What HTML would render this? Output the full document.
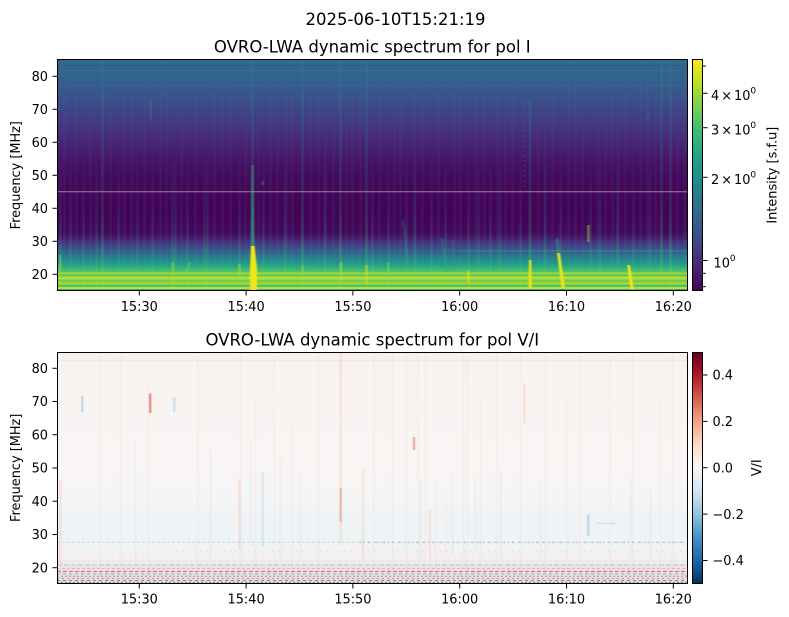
<!DOCTYPE html>
<html><head><meta charset="utf-8"><style>
html,body{margin:0;padding:0;background:#fff;}
svg{display:block;}
text{font-family:"DejaVu Sans","Liberation Sans",sans-serif;fill:#000;}
</style></head><body>
<svg width="789" height="617" viewBox="0 0 789 617" xmlns="http://www.w3.org/2000/svg">
<defs>
<filter id="blur" x="-5%" y="-5%" width="110%" height="110%"><feGaussianBlur stdDeviation="0.7 0.3"/></filter>
<linearGradient id="bgI" gradientUnits="userSpaceOnUse" x1="0" y1="59" x2="0" y2="291">
<stop offset="0" stop-color="#2f6b8e"/>
<stop offset="0.047" stop-color="#31668e"/>
<stop offset="0.112" stop-color="#365c8d"/>
<stop offset="0.177" stop-color="#3c4f8a"/>
<stop offset="0.241" stop-color="#424086"/>
<stop offset="0.306" stop-color="#46327e"/>
<stop offset="0.371" stop-color="#482374"/>
<stop offset="0.435" stop-color="#471466"/>
<stop offset="0.5" stop-color="#450b5d"/>
<stop offset="0.565" stop-color="#450559"/>
<stop offset="0.672" stop-color="#440256"/>
<stop offset="0.746" stop-color="#45085b"/>
<stop offset="0.772" stop-color="#471a6c"/>
<stop offset="0.797" stop-color="#443a83"/>
<stop offset="0.819" stop-color="#3d4e8a"/>
<stop offset="0.84" stop-color="#2f6a8d"/>
<stop offset="0.862" stop-color="#25848e"/>
<stop offset="0.884" stop-color="#1f9d8a"/>
<stop offset="0.901" stop-color="#2fb47c"/>
<stop offset="0.918" stop-color="#55c568"/>
<stop offset="1" stop-color="#6ccd5a"/>
</linearGradient>
<linearGradient id="viridis" x1="0" y1="1" x2="0" y2="0">
<stop offset="0" stop-color="#440154"/><stop offset="0.1" stop-color="#482475"/>
<stop offset="0.2" stop-color="#414487"/><stop offset="0.3" stop-color="#355f8d"/>
<stop offset="0.4" stop-color="#2a788e"/><stop offset="0.5" stop-color="#21918c"/>
<stop offset="0.6" stop-color="#22a884"/><stop offset="0.7" stop-color="#44bf70"/>
<stop offset="0.8" stop-color="#7ad151"/><stop offset="0.9" stop-color="#bddf26"/>
<stop offset="1" stop-color="#fde725"/>
</linearGradient>
<linearGradient id="rdbu" x1="0" y1="1" x2="0" y2="0">
<stop offset="0" stop-color="#053061"/><stop offset="0.1" stop-color="#2166ac"/>
<stop offset="0.2" stop-color="#4393c3"/><stop offset="0.3" stop-color="#92c5de"/>
<stop offset="0.4" stop-color="#d1e5f0"/><stop offset="0.5" stop-color="#f7f7f7"/>
<stop offset="0.6" stop-color="#fddbc7"/><stop offset="0.7" stop-color="#f4a582"/>
<stop offset="0.8" stop-color="#d6604d"/><stop offset="0.9" stop-color="#b2182b"/>
<stop offset="1" stop-color="#67001f"/>
</linearGradient>
<linearGradient id="sA" gradientUnits="userSpaceOnUse" x1="0" y1="59" x2="0" y2="291">
<stop offset="0" stop-color="#3a9a9a" stop-opacity="0.08"/>
<stop offset="0.45" stop-color="#3a6a9a" stop-opacity="0.18"/>
<stop offset="0.8" stop-color="#2a7a8e" stop-opacity="0.3"/>
<stop offset="1" stop-color="#7ad151" stop-opacity="0.35"/>
</linearGradient>
<linearGradient id="sB" gradientUnits="userSpaceOnUse" x1="0" y1="150" x2="0" y2="291">
<stop offset="0" stop-color="#2c6a8c" stop-opacity="0.05"/>
<stop offset="0.45" stop-color="#2c6a8c" stop-opacity="0.35"/>
<stop offset="0.8" stop-color="#3fbc73" stop-opacity="0.45"/>
<stop offset="1" stop-color="#c5e021" stop-opacity="0.55"/>
</linearGradient>
<linearGradient id="sC" gradientUnits="userSpaceOnUse" x1="0" y1="59" x2="0" y2="291">
<stop offset="0" stop-color="#22a08c" stop-opacity="0.3"/>
<stop offset="0.6" stop-color="#21918c" stop-opacity="0.4"/>
<stop offset="0.85" stop-color="#3fbc73" stop-opacity="0.6"/>
<stop offset="1" stop-color="#bddf26" stop-opacity="0.7"/>
</linearGradient>
<linearGradient id="bgV" gradientUnits="userSpaceOnUse" x1="0" y1="352" x2="0" y2="584">
<stop offset="0" stop-color="#f9efec"/>
<stop offset="0.03" stop-color="#f9f1ee"/>
<stop offset="0.12" stop-color="#f9f4f2"/>
<stop offset="0.5" stop-color="#f8f5f4"/>
<stop offset="0.64" stop-color="#f5f5f6"/>
<stop offset="0.70" stop-color="#f0f3f6"/>
<stop offset="0.81" stop-color="#eef3f6"/>
<stop offset="0.89" stop-color="#f4f1f2"/>
<stop offset="0.93" stop-color="#ece3e6"/>
<stop offset="1" stop-color="#e4d9de"/>
</linearGradient>
<clipPath id="c1"><rect x="57" y="59" width="631" height="232"/></clipPath>
<clipPath id="c2"><rect x="57" y="352" width="631" height="232"/></clipPath>
</defs>

<rect x="0" y="0" width="789" height="617" fill="#fff"/>

<text x="395.5" y="25" font-size="16.5" text-anchor="middle">2025-06-10T15:21:19</text>
<text x="372.3" y="52.5" font-size="16.5" text-anchor="middle">OVRO-LWA dynamic spectrum for pol I</text>
<text x="372.3" y="345.5" font-size="16.5" text-anchor="middle">OVRO-LWA dynamic spectrum for pol V/I</text>

<!-- ===== TOP PANEL ===== -->
<g clip-path="url(#c1)">
<rect x="57" y="59" width="631" height="232" fill="url(#bgI)"/>
<line x1="57" y1="65.5" x2="688" y2="65.5" stroke="#4a3f85" stroke-width="1" opacity="0.6"/>
<line x1="57" y1="85.5" x2="688" y2="85.5" stroke="#2f7f8e" stroke-width="1" opacity="0.35"/>
<line x1="57" y1="240.5" x2="688" y2="240.5" stroke="#3b528b" stroke-width="1" opacity="0.25"/>
<line x1="57" y1="250.8" x2="460" y2="250.8" stroke="#3f7a8c" stroke-width="1.4" opacity="0.35"/>
<line x1="460" y1="250.8" x2="688" y2="250.8" stroke="#3f7e8c" stroke-width="1.6" opacity="0.75"/>
<g filter="url(#blur)">
<path stroke="url(#sA)" stroke-width="1.4" fill="none" d="M64.5 59V291M76.5 59V291M90.5 59V291M110.5 59V291M124.5 59V291M131.5 59V291M144.5 59V291M160.5 59V291M166.5 59V291M181.5 59V291M195.5 59V291M214.5 59V291M222.5 59V291M230.5 59V291M245.5 59V291M258.5 59V291M270.5 59V291M277.5 59V291M286.5 59V291M292.5 59V291M310.5 59V291M318.5 59V291M325.5 59V291M333.5 59V291M346.5 59V291M352.5 59V291M360.5 59V291M379.5 59V291M394.5 59V291M400.5 59V291M414.5 59V291M422.5 59V291M438.5 59V291M454.5 59V291M460.5 59V291M475.5 59V291M484.5 59V291M497.5 59V291M505.5 59V291M512.5 59V291M538.5 59V291M545.5 59V291M552.5 59V291M568.5 59V291M575.5 59V291M582.5 59V291M597.5 59V291M605.5 59V291M612.5 59V291M618.5 59V291M625.5 59V291M640.5 59V291M647.5 59V291M655.5 59V291M677.5 59V291M684.5 59V291"/>
<path stroke="url(#sB)" stroke-width="1.6" fill="none" d="M60.5 150V291M70.5 150V291M83.5 150V291M96.5 150V291M118.5 150V291M137.5 150V291M152.5 150V291M172.5 150V291M175.5 150V291M187.5 150V291M204.5 150V291M207.5 150V291M239.5 150V291M263.5 150V291M388.5 150V291M406.5 150V291M431.5 150V291M445.5 150V291M468.5 150V291M478.5 150V291M490.5 150V291M520.5 150V291M560.5 150V291M590.5 150V291M633.5 150V291M617.5 150V291M372.5 150V291M285 150V291M325 150V291M415 150V291M500 150V291M545 150V291M600 150V291M650 150V291"/>
<path stroke="url(#sC)" stroke-width="1.5" fill="none" d="M102.5 59V291M302.5 59V291M340.5 59V291M366.5 59V291M252.5 59V291M661.5 59V291M670.5 59V291"/>
<path stroke="url(#sC)" stroke-width="1.6" fill="none" d="M530 100V291"/>
<line x1="150.7" y1="100" x2="150.7" y2="121" stroke="#21918c" stroke-width="1.5" opacity="0.5"/>
<line x1="648" y1="113" x2="648" y2="123" stroke="#21918c" stroke-width="1.4" opacity="0.4"/>
<line x1="524.5" y1="100" x2="524.5" y2="190" stroke="#3a7a8c" stroke-width="1.2" stroke-dasharray="2 3" opacity="0.5"/>
<line x1="588.3" y1="225" x2="588.3" y2="242" stroke="#9ad93f" stroke-width="1.6" opacity="0.7"/>
<line x1="263" y1="181" x2="263" y2="185" stroke="#3fbc73" stroke-width="1.5" opacity="0.6"/>
<line x1="190" y1="262" x2="182" y2="283" stroke="#7ad151" stroke-width="1.4" opacity="0.6"/>
<line x1="403" y1="220" x2="408" y2="264" stroke="#2a9a8a" stroke-width="2" opacity="0.35"/>
<line x1="441.5" y1="238" x2="446" y2="272" stroke="#2a9a8a" stroke-width="2" opacity="0.35"/>
<line x1="453" y1="240" x2="455" y2="270" stroke="#2a9a8a" stroke-width="1.5" opacity="0.3"/>
</g>
<line x1="57" y1="191.7" x2="688" y2="191.7" stroke="#9c8796" stroke-width="1"/>
<rect x="57" y="272.5" width="631" height="1.8" fill="#c2df23" opacity="0.75"/>
<rect x="57" y="274.3" width="631" height="2.2" fill="#5ec962" opacity="0.5"/>
<rect x="57" y="276.5" width="631" height="3" fill="#d2e21b" opacity="0.8"/>
<rect x="57" y="279.5" width="631" height="3" fill="#7ad151" opacity="0.6"/>
<rect x="57" y="282.5" width="631" height="2" fill="#c0df25" opacity="0.75"/>
<rect x="57" y="284.5" width="631" height="2.5" fill="#3fbc73" opacity="0.6"/>
<rect x="57" y="287" width="631" height="2" fill="#dfe318" opacity="0.8"/>
<rect x="57" y="289" width="631" height="2" fill="#25a087" opacity="0.7"/>
<g filter="url(#blur)">
<polygon points="251.5,165 253.5,165 254.8,248 250.5,248" fill="#35b779" opacity="0.55"/>
<polygon points="251,246 254.5,246 257,268 257,291 250,291 250,268" fill="#f0e51c"/>
<polygon points="529,260 531.2,260 532,289 528.5,289" fill="#e3e41a"/>
<polygon points="556,238 558,238 559.5,253 557,253" fill="#35b779" opacity="0.45"/>
<polygon points="557,253 559.8,253 565,288 561.8,288" fill="#eee51c"/>
<polygon points="627.3,265 630,265 633.8,289.5 630.5,289.5" fill="#f2e61e"/>
<rect x="467.5" y="271" width="2" height="12" fill="#dfe318" opacity="0.85"/>
<rect x="238.5" y="264" width="2" height="16" fill="#a0da39" opacity="0.75"/>
<rect x="59.5" y="255" width="1.6" height="30" fill="#9ad93f" opacity="0.6"/>
<rect x="172" y="262" width="1.6" height="20" fill="#a8db34" opacity="0.6"/>
<rect x="365.5" y="265" width="2" height="18" fill="#c8e020" opacity="0.7"/>
<rect x="387.5" y="262" width="1.8" height="18" fill="#8fd744" opacity="0.6"/>
<rect x="340" y="262" width="2" height="20" fill="#b5de2b" opacity="0.6"/>
<rect x="302" y="265" width="1.6" height="15" fill="#a0da39" opacity="0.6"/>
</g>
</g>
<rect x="57.5" y="59.5" width="630" height="231" fill="none" stroke="#000" stroke-width="1"/>

<g stroke="#000" stroke-width="1">
<line x1="57" y1="76.3" x2="52.5" y2="76.3"/><line x1="57" y1="109.3" x2="52.5" y2="109.3"/>
<line x1="57" y1="142.3" x2="52.5" y2="142.3"/><line x1="57" y1="175.3" x2="52.5" y2="175.3"/>
<line x1="57" y1="208.3" x2="52.5" y2="208.3"/><line x1="57" y1="241.3" x2="52.5" y2="241.3"/>
<line x1="57" y1="274.3" x2="52.5" y2="274.3"/>
<line x1="139.3" y1="291" x2="139.3" y2="295.5"/><line x1="246.1" y1="291" x2="246.1" y2="295.5"/>
<line x1="352.9" y1="291" x2="352.9" y2="295.5"/><line x1="459.7" y1="291" x2="459.7" y2="295.5"/>
<line x1="566.5" y1="291" x2="566.5" y2="295.5"/><line x1="673.3" y1="291" x2="673.3" y2="295.5"/>
</g>
<g font-size="12.9" text-anchor="end">
<text x="48" y="81">80</text><text x="48" y="114">70</text><text x="48" y="147">60</text>
<text x="48" y="180">50</text><text x="48" y="213">40</text><text x="48" y="246">30</text>
<text x="48" y="279">20</text>
</g>
<g font-size="12.9" text-anchor="middle">
<text x="139.3" y="311">15:30</text><text x="246.1" y="311">15:40</text><text x="352.9" y="311">15:50</text>
<text x="459.7" y="311">16:00</text><text x="566.5" y="311">16:10</text><text x="673.3" y="311">16:20</text>
</g>
<text transform="translate(19.8,175.2) rotate(-90)" font-size="12.9" text-anchor="middle">Frequency [MHz]</text>

<rect x="692.3" y="59.3" width="10" height="231.4" fill="url(#viridis)"/>
<rect x="692.5" y="59.5" width="10" height="231" fill="none" stroke="#000" stroke-width="1"/>
<g stroke="#000" stroke-width="1">
<line x1="703" y1="66" x2="705.8" y2="66"/>
<line x1="703" y1="93.3" x2="707.5" y2="93.3"/>
<line x1="703" y1="127.7" x2="707.5" y2="127.7"/>
<line x1="703" y1="177.3" x2="707.5" y2="177.3"/>
<line x1="703" y1="260.5" x2="707.5" y2="260.5"/>
<line x1="703" y1="273.3" x2="705.8" y2="273.3"/>
<line x1="703" y1="286.7" x2="705.8" y2="286.7"/>
</g>
<g font-size="12.9">
<text x="711" y="100">4<tspan dx="2">×</tspan><tspan dx="2">10</tspan><tspan dy="-6.5" font-size="9">0</tspan></text>
<text x="711" y="134.4">3<tspan dx="2">×</tspan><tspan dx="2">10</tspan><tspan dy="-6.5" font-size="9">0</tspan></text>
<text x="711" y="184">2<tspan dx="2">×</tspan><tspan dx="2">10</tspan><tspan dy="-6.5" font-size="9">0</tspan></text>
<text x="713.5" y="267.3">10<tspan dy="-6.5" font-size="9">0</tspan></text>
</g>
<text transform="translate(776.5,175.2) rotate(-90)" font-size="12.9" text-anchor="middle">Intensity [s.f.u]</text>

<!-- ===== BOTTOM PANEL ===== -->
<g clip-path="url(#c2)">
<rect x="57" y="352" width="631" height="232" fill="url(#bgV)"/>
<line x1="57" y1="360.7" x2="688" y2="360.7" stroke="#e2ecf2" stroke-width="1.6"/>
<g filter="url(#blur)">
<path stroke="#f4a582" stroke-width="1.2" opacity="0.16" fill="none" d="M100.5 352V570M120.5 352V570M148.5 380V570M197.5 352V570M240.5 352V570M255.5 400V570M274.5 352V570M292.5 420V570M318.5 352V570M373.5 352V570M392.5 352V570M406.5 352V570M418.5 352V570M425.5 352V570M463.5 352V570M467.5 352V570M480.5 400V570M496.5 352V570M520.5 352V570M545.5 352V570M566.5 400V570M580.5 352V570M610.5 352V570M632.5 352V570M660.5 400V570M672.5 352V570M435.5 480V570M445.5 500V570"/>
<path stroke="#f4a582" stroke-width="1.4" opacity="0.4" fill="none" d="M340.7 352V545M60.5 480V565M239.5 480V550M363 470V560M430 510V560"/>
<line x1="340.7" y1="488" x2="340.7" y2="522" stroke="#e89a80" stroke-width="1.6"/>
<path stroke="#92c5de" stroke-width="1.2" opacity="0.2" fill="none" d="M135.5 440V560M210.5 450V560M250.5 440V545M280.5 460V560M300.5 470V560M420.5 480V560M452.5 470V555M475.5 480V550M500.5 470V560M540.5 480V560M630.5 480V560M650.5 490V560"/>
<line x1="262.7" y1="472" x2="262.7" y2="547" stroke="#92c5de" stroke-width="1.3" opacity="0.55"/>
<line x1="82.3" y1="396" x2="82.3" y2="412" stroke="#6aaed6" stroke-width="1.2" opacity="0.8"/>
<line x1="174.3" y1="397" x2="174.3" y2="412" stroke="#92c5de" stroke-width="1.2" opacity="0.8"/>
<line x1="150.2" y1="393.5" x2="150.2" y2="413" stroke="#d6604d" stroke-width="1.6"/>
<line x1="414" y1="437" x2="414" y2="450" stroke="#e07a60" stroke-width="1.4"/>
<line x1="524.3" y1="383" x2="524.3" y2="423" stroke="#f4a582" stroke-width="1.3" opacity="0.5"/>
<line x1="588.3" y1="515" x2="588.3" y2="536" stroke="#6aaed6" stroke-width="1.2" opacity="0.8"/>
<line x1="596.7" y1="523.3" x2="616.7" y2="523.3" stroke="#92c5de" stroke-width="1" stroke-dasharray="5 2" opacity="0.6"/>
</g>
<line x1="57" y1="542.3" x2="688" y2="542.3" stroke="#a9cfe3" stroke-width="1.2" stroke-dasharray="3 2" opacity="0.6"/>
<line x1="360" y1="542.3" x2="688" y2="542.3" stroke="#d6604d" stroke-width="1.2" stroke-dasharray="1 7" opacity="0.5"/>
<line x1="360" y1="542.3" x2="688" y2="542.3" stroke="#4393c3" stroke-width="1.2" stroke-dasharray="1 5" stroke-dashoffset="3" opacity="0.45"/>
<line x1="170" y1="551.7" x2="688" y2="551.7" stroke="#e0806a" stroke-width="1" stroke-dasharray="1 5" opacity="0.4"/>
<line x1="57" y1="557" x2="688" y2="557" stroke="#fddbc7" stroke-width="1" stroke-dasharray="3 3" opacity="0.7"/>
<line x1="57" y1="561" x2="688" y2="561" stroke="#d1e5f0" stroke-width="1" stroke-dasharray="4 2" opacity="0.7"/>
<line x1="57" y1="565" x2="688" y2="565" stroke="#6aaed6" stroke-width="1.1" stroke-dasharray="5 2" opacity="0.55"/>
<line x1="57" y1="568.5" x2="688" y2="568.5" stroke="#e0806a" stroke-width="1" stroke-dasharray="3 2" opacity="0.45"/>
<line x1="57" y1="571.5" x2="688" y2="571.5" stroke="#c6454a" stroke-width="1.3" stroke-dasharray="4 2" opacity="0.65"/>
<line x1="57" y1="574" x2="688" y2="574" stroke="#3f88c0" stroke-width="1.1" stroke-dasharray="3 3" opacity="0.55"/>
<line x1="57" y1="576.3" x2="688" y2="576.3" stroke="#d6604d" stroke-width="1.1" stroke-dasharray="2 2" opacity="0.6"/>
<line x1="57" y1="578.5" x2="688" y2="578.5" stroke="#4393c3" stroke-width="1.1" stroke-dasharray="2 3" opacity="0.6"/>
<line x1="57" y1="580.5" x2="688" y2="580.5" stroke="#b2182b" stroke-width="1.1" stroke-dasharray="3 3" opacity="0.55"/>
<line x1="57" y1="582.5" x2="688" y2="582.5" stroke="#2166ac" stroke-width="1.2" stroke-dasharray="2 2" opacity="0.65"/>
</g>
<rect x="57.5" y="352.5" width="630" height="231" fill="none" stroke="#000" stroke-width="1"/>

<g stroke="#000" stroke-width="1">
<line x1="57" y1="368.3" x2="52.5" y2="368.3"/><line x1="57" y1="401.5" x2="52.5" y2="401.5"/>
<line x1="57" y1="434.7" x2="52.5" y2="434.7"/><line x1="57" y1="468" x2="52.5" y2="468"/>
<line x1="57" y1="501.2" x2="52.5" y2="501.2"/><line x1="57" y1="534.5" x2="52.5" y2="534.5"/>
<line x1="57" y1="567.7" x2="52.5" y2="567.7"/>
<line x1="139.3" y1="584" x2="139.3" y2="588.5"/><line x1="246.1" y1="584" x2="246.1" y2="588.5"/>
<line x1="352.9" y1="584" x2="352.9" y2="588.5"/><line x1="459.7" y1="584" x2="459.7" y2="588.5"/>
<line x1="566.5" y1="584" x2="566.5" y2="588.5"/><line x1="673.3" y1="584" x2="673.3" y2="588.5"/>
</g>
<g font-size="12.9" text-anchor="end">
<text x="48" y="373">80</text><text x="48" y="406.2">70</text><text x="48" y="439.4">60</text>
<text x="48" y="472.7">50</text><text x="48" y="505.9">40</text><text x="48" y="539.2">30</text>
<text x="48" y="572.4">20</text>
</g>
<g font-size="12.9" text-anchor="middle">
<text x="139.3" y="603.5">15:30</text><text x="246.1" y="603.5">15:40</text><text x="352.9" y="603.5">15:50</text>
<text x="459.7" y="603.5">16:00</text><text x="566.5" y="603.5">16:10</text><text x="673.3" y="603.5">16:20</text>
</g>
<text transform="translate(19.8,467.8) rotate(-90)" font-size="12.9" text-anchor="middle">Frequency [MHz]</text>

<rect x="692.3" y="352.3" width="10.2" height="231" fill="url(#rdbu)"/>
<rect x="692.5" y="352.5" width="10" height="231" fill="none" stroke="#000" stroke-width="1"/>
<g stroke="#000" stroke-width="1">
<line x1="703" y1="375" x2="707.5" y2="375"/>
<line x1="703" y1="421.4" x2="707.5" y2="421.4"/>
<line x1="703" y1="467.7" x2="707.5" y2="467.7"/>
<line x1="703" y1="514.1" x2="707.5" y2="514.1"/>
<line x1="703" y1="560.5" x2="707.5" y2="560.5"/>
</g>
<g font-size="12.9">
<text x="712.5" y="379.7">0.4</text>
<text x="712.5" y="426.1">0.2</text>
<text x="712.5" y="472.4">0.0</text>
<text x="712.5" y="518.8">−0.2</text>
<text x="712.5" y="565.2">−0.4</text>
</g>
<text transform="translate(761,467.8) rotate(-90)" font-size="12.9" text-anchor="middle">V/I</text>
</svg>
</body></html>
